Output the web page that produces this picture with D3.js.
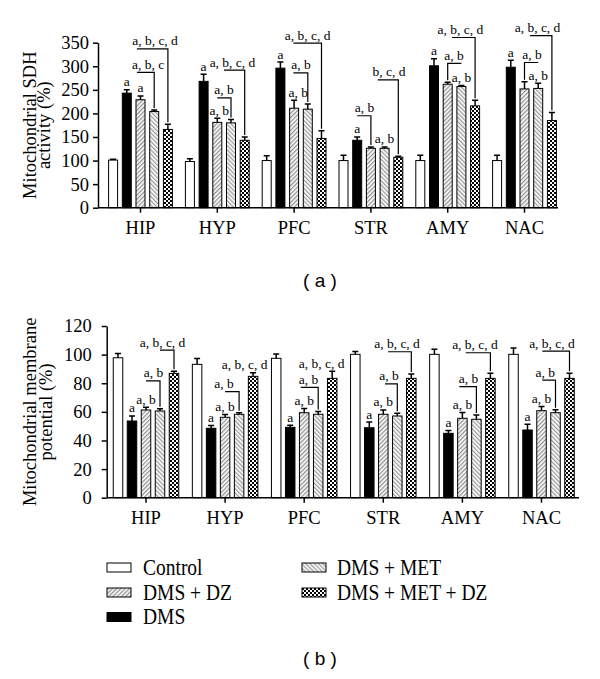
<!DOCTYPE html>
<html><head><meta charset="utf-8">
<script src="https://cdn.jsdelivr.net/npm/d3@7"></script>
<style>body{margin:0;background:#fff}svg{display:block}</style>
</head><body>
<svg id="c" width="600" height="679"></svg>
<script>
// ---------- DATA ----------
const categories = ["HIP","HYP","PFC","STR","AMY","NAC"];
// bar order in each group: Control, DMS, DMS + DZ, DMS + MET, DMS + MET + DZ
const barSeries = ["Control","DMS","DMS + DZ","DMS + MET","DMS + MET + DZ"];
const legendLeft = ["Control","DMS + DZ","DMS"];
const legendRight = ["DMS + MET","DMS + MET + DZ"];

// (a) Mitochondrial SDH activity (%)
const sdhControl = [101, 98, 100, 100, 100, 100];
const sdhDMS     = [243, 268, 296, 143, 301, 298];
const sdhDZ      = [229, 181, 211, 126, 262, 252];
const sdhMET     = [204, 180, 209, 126, 257, 253];
const sdhMETDZ   = [166, 143, 147, 107, 216, 185];
const sdhControlErr = [2, 6, 10, 11, 11, 11];
const sdhDMSErr     = [7, 15, 13, 7, 15, 15];
const sdhDZErr      = [8, 9, 17, 3, 4, 15];
const sdhMETErr     = [3, 7, 11, 3, 2, 11];
const sdhMETDZErr   = [11, 7, 16, 2, 12, 17];
const sdhTicks = [0,50,100,150,200,250,300,350];

// (b) Mitochondrial membrane potential (%)
const mmpControl = [97.8, 93.2, 97.4, 100.2, 100.2, 100.2];
const mmpDMS     = [53.6, 48.5, 49.2, 48.9, 45.0, 47.3];
const mmpDZ      = [61.3, 56.2, 59.4, 58.3, 55.5, 60.8];
const mmpMET     = [60.6, 58.3, 58.3, 57.1, 54.8, 59.4];
const mmpMETDZ   = [86.9, 84.8, 83.4, 83.4, 83.4, 83.4];
const mmpControlErr = [3, 4, 3, 2, 3.5, 4.5];
const mmpDMSErr     = [3.5, 2, 1.5, 4, 2, 4];
const mmpDZErr      = [2, 2, 3, 3, 4, 3];
const mmpMETErr     = [1.5, 1, 2, 2, 3, 2];
const mmpMETDZErr   = [1.5, 2.5, 5, 3, 3.5, 3.5];
const mmpTicks = [0,20,40,60,80,100,120];

// significance letters: bar index 0..4, "at" = bar position of label centre
const sdhLabels = [
  {cat:"HIP",bar:1,text:"a"},{cat:"HIP",bar:2,text:"a"},
  {cat:"HYP",bar:1,text:"a"},{cat:"HYP",bar:2,text:"a, b",at:2.15},
  {cat:"PFC",bar:1,text:"a"},{cat:"PFC",bar:2,text:"a, b",at:2.3},
  {cat:"STR",bar:1,text:"a"},{cat:"STR",bar:3,text:"a, b"},
  {cat:"AMY",bar:1,text:"a"},{cat:"AMY",bar:3,text:"a, b"},
  {cat:"NAC",bar:1,text:"a"},{cat:"NAC",bar:3,text:"a, b"}
];
const sdhBrackets = [
  {cat:"HIP",from:1.74,drop:3,level:287,at:2.55,text:"a, b, c"},
  {cat:"HIP",from:1.74,drop:4,level:337,at:3.06,text:"a, b, c, d"},
  {cat:"HYP",from:2,drop:3,level:233,at:2.49,text:"a, b"},
  {cat:"HYP",from:2.49,drop:4,level:292,at:3.11,text:"a, b, c, d"},
  {cat:"PFC",from:1.95,drop:3,level:286,at:2.5,text:"a, b"},
  {cat:"PFC",from:1.95,drop:4,level:349,at:2.98,text:"a, b, c, d"},
  {cat:"STR",from:1,drop:2,level:195,at:1.53,text:"a, b"},
  {cat:"STR",from:2.5,drop:4,level:271,at:3.32,text:"b, c, d"},
  {cat:"AMY",from:3,drop:2,level:306,at:2.46,text:"a, b"},
  {cat:"AMY",from:2.31,drop:4,level:361,at:2.93,text:"a, b, c, d"},
  {cat:"NAC",from:3,drop:2,level:308,at:2.55,text:"a, b"},
  {cat:"NAC",from:2.4,drop:4,level:365,at:2.95,text:"a, b, c, d"}
];
const mmpLabels = [
  {cat:"HIP",bar:1,text:"a"},{cat:"HIP",bar:2,text:"a, b"},
  {cat:"HYP",bar:1,text:"a"},{cat:"HYP",bar:2,text:"a, b"},{cat:"HYP",bar:4,text:"a, b, c, d",at:3.39},
  {cat:"PFC",bar:1,text:"a"},{cat:"PFC",bar:2,text:"a, b"},{cat:"PFC",bar:4,text:"a, b, c, d",at:3.24},
  {cat:"STR",bar:1,text:"a"},{cat:"STR",bar:2,text:"a, b"},
  {cat:"AMY",bar:1,text:"a"},{cat:"AMY",bar:2,text:"a, b"},
  {cat:"NAC",bar:1,text:"a"},{cat:"NAC",bar:2,text:"a, b"}
];
const mmpBrackets = [
  {cat:"HIP",from:3,drop:4,level:103.2,at:3.18,text:"a, b, c, d"},
  {cat:"HIP",from:2,drop:3,level:81.6,at:2.54,text:"a, b"},
  {cat:"HYP",from:2,drop:3,level:74.1,at:1.92,text:"a, b"},
  {cat:"PFC",from:1.75,drop:3,level:77.1,at:2.31,text:"a, b"},
  {cat:"STR",from:2.34,drop:4,level:102,at:2.98,text:"a, b, c, d"},
  {cat:"STR",from:2.12,drop:3,level:79.5,at:2.41,text:"a, b"},
  {cat:"AMY",from:2.24,drop:4,level:101.3,at:2.9,text:"a, b, c, d"},
  {cat:"AMY",from:1.78,drop:3,level:77.6,at:2.44,text:"a, b"},
  {cat:"NAC",from:2.06,drop:4,level:102.5,at:2.75,text:"a, b, c, d"},
  {cat:"NAC",from:2.06,drop:3,level:82.2,at:2.27,text:"a, b"}
];

// ---------- DRAWING ----------
const SERIF = "'Liberation Serif','Times New Roman',serif";
const SANS = "'Liberation Sans',Arial,sans-serif";
const svg = d3.select("#c");
const defs = svg.append("defs");

function hatch(id, angle, col){
  const s = 3;
  const p = defs.append("pattern").attr("id",id).attr("patternUnits","userSpaceOnUse")
    .attr("width",s).attr("height",s).attr("patternTransform",`rotate(${angle})`);
  p.append("rect").attr("width",s).attr("height",s).attr("fill","#fff");
  p.append("line").attr("x1",0.75).attr("y1",0).attr("x2",0.75).attr("y2",s)
    .attr("stroke",col).attr("stroke-width",0.85);
}
hatch("hDZ",45,"#555");
hatch("hMET",-45,"#666");
const ck = defs.append("pattern").attr("id","ck").attr("patternUnits","userSpaceOnUse")
  .attr("width",4).attr("height",4);
ck.append("rect").attr("width",4).attr("height",4).attr("fill","#000");
ck.append("rect").attr("width",2).attr("height",2).attr("fill","#fff");
ck.append("rect").attr("x",2).attr("y",2).attr("width",2).attr("height",2).attr("fill","#fff");
const fillBy = {
  "Control":"#fff","DMS":"#000","DMS + DZ":"url(#hDZ)",
  "DMS + MET":"url(#hMET)","DMS + MET + DZ":"url(#ck)"
};

function panel(cfg){
  const y = d3.scaleLinear().domain([0, cfg.ticks[cfg.ticks.length-1]]).range(cfg.yRange);
  const xb = d3.scaleBand().domain(categories).range(cfg.xRange).padding(0);
  const off = d3.scaleLinear().domain([0,4]).range([-2*cfg.pitch, 2*cfg.pitch]);
  const cx = (cat,i) => xb(cat) + xb.bandwidth()/2 + off(i);
  const idx = c => categories.indexOf(c);
  const top = (c,i) => cfg.means[i][idx(c)] + cfg.errs[i][idx(c)];
  const g = svg.append("g");

  cfg.means.forEach((arr,i) => {
    g.selectAll(null).data(categories).join("rect")
      .attr("x", c => cx(c,i) - cfg.barW/2)
      .attr("y", (c,k) => y(arr[k]))
      .attr("width", cfg.barW)
      .attr("height", (c,k) => y(0) - y(arr[k]))
      .attr("fill", fillBy[barSeries[i]])
      .attr("stroke","#000").attr("stroke-width",1);
    g.selectAll(null).data(categories).join("path")
      .attr("d", (c,k) => {
        const x = cx(c,i), y0 = y(arr[k]), y1 = y(arr[k] + cfg.errs[i][k]);
        return `M${x},${y0}V${y1}M${x-3},${y1}H${x+3}`;
      })
      .attr("stroke","#000").attr("stroke-width",1.5).attr("fill","none");
  });

  // axes
  const ya = g.append("g").attr("transform",`translate(${cfg.axisX},0)`)
    .call(d3.axisLeft(y).tickValues(cfg.ticks).tickSize(5).tickSizeOuter(0).tickPadding(cfg.tickPad));
  ya.selectAll("path,line").attr("stroke","#000").attr("stroke-width",1.5);
  ya.selectAll("text").attr("font-family",SERIF).attr("font-size",18.5).attr("fill","#000");

  const xa = g.append("g").attr("transform",`translate(0,${y(0)})`)
    .call(d3.axisBottom(xb).tickSize(5).tickSizeOuter(0).tickPadding(8));
  xa.select(".domain").remove();
  xa.selectAll("line").attr("stroke","#000").attr("stroke-width",1.5);
  xa.selectAll("text").attr("font-family",SERIF).attr("font-size",18.5).attr("fill","#000");
  g.append("line").attr("x1",cfg.axisX).attr("x2",cfg.axisEnd)
    .attr("y1",y(0)).attr("y2",y(0)).attr("stroke","#000").attr("stroke-width",1.5);

  // y title
  const cy = (cfg.yRange[0]+cfg.yRange[1])/2;
  const tt = g.append("g").attr("transform",`translate(0,${cy}) rotate(-90)`);
  cfg.title.forEach((t,i) => {
    tt.append("text").attr("x",0).attr("y",cfg.titleY[i]).attr("text-anchor","middle")
      .attr("font-family",SERIF).attr("font-size",18.5).attr("fill","#000").text(t);
  });

  // letters
  g.selectAll(null).data(cfg.labels).join("text")
    .attr("x", d => cx(d.cat, d.at ?? d.bar))
    .attr("y", d => y(top(d.cat,d.bar)) - 3.5)
    .attr("text-anchor","middle").attr("font-family",SERIF).attr("font-size",13.5)
    .attr("fill","#000").text(d => d.text);

  g.selectAll(null).data(cfg.brackets).join("path")
    .attr("d", d => `M${cx(d.cat,d.from)},${y(d.level)}H${cx(d.cat,d.drop)}V${y(top(d.cat,d.drop)) - 2}`)
    .attr("stroke","#000").attr("stroke-width",1.2).attr("fill","none");
  g.selectAll(null).data(cfg.brackets).join("text")
    .attr("x", d => cx(d.cat,d.at))
    .attr("y", d => y(d.level) - 3.5)
    .attr("text-anchor","middle").attr("font-family",SERIF).attr("font-size",13.5)
    .attr("fill","#000").text(d => d.text);

  svg.append("text").attr("x",320).attr("y",cfg.captionY).attr("text-anchor","middle")
    .attr("font-family",SANS).attr("font-size",19).attr("fill","#000")
    .attr("xml:space","preserve").text(cfg.caption);
}

panel({
  means:[sdhControl,sdhDMS,sdhDZ,sdhMET,sdhMETDZ],
  errs:[sdhControlErr,sdhDMSErr,sdhDZErr,sdhMETErr,sdhMETDZErr],
  ticks:sdhTicks, yRange:[207.7,42.7], xRange:[102.1,562.9],
  axisX:98, axisEnd:558, pitch:13.7, barW:9, tickPad:4,
  title:["Mitochondrial SDH","activity (%)"], titleY:[35.5,50],
  labels:sdhLabels, brackets:sdhBrackets, caption:"( a )", captionY:287
});
panel({
  means:[mmpControl,mmpDMS,mmpDZ,mmpMET,mmpMETDZ],
  errs:[mmpControlErr,mmpDMSErr,mmpDZErr,mmpMETErr,mmpMETDZErr],
  ticks:mmpTicks, yRange:[497.7,326], xRange:[106.45,581.05],
  axisX:106.7, axisEnd:579, pitch:14, barW:9.5, tickPad:10,
  title:["Mitochondrial membrane","potential (%)"], titleY:[36,52],
  labels:mmpLabels, brackets:mmpBrackets, caption:"( b )", captionY:665
});

// legend
const rowY = [567.5, 592.5, 617];
function legendCol(names, iconX, textX){
  names.forEach((n,i) => {
    svg.append("rect").attr("x",iconX).attr("y",rowY[i]-4.5).attr("width",24).attr("height",9)
      .attr("fill",fillBy[n]).attr("stroke","#000").attr("stroke-width",1);
    svg.append("text").attr("transform",`translate(${textX},${rowY[i]+7}) scale(1,1.2)`)
      .attr("font-family",SERIF).attr("font-size",19.5).attr("fill","#000").text(n);
  });
}
legendCol(legendLeft, 107, 143);
legendCol(legendRight, 302, 337);
</script>
</body></html>
